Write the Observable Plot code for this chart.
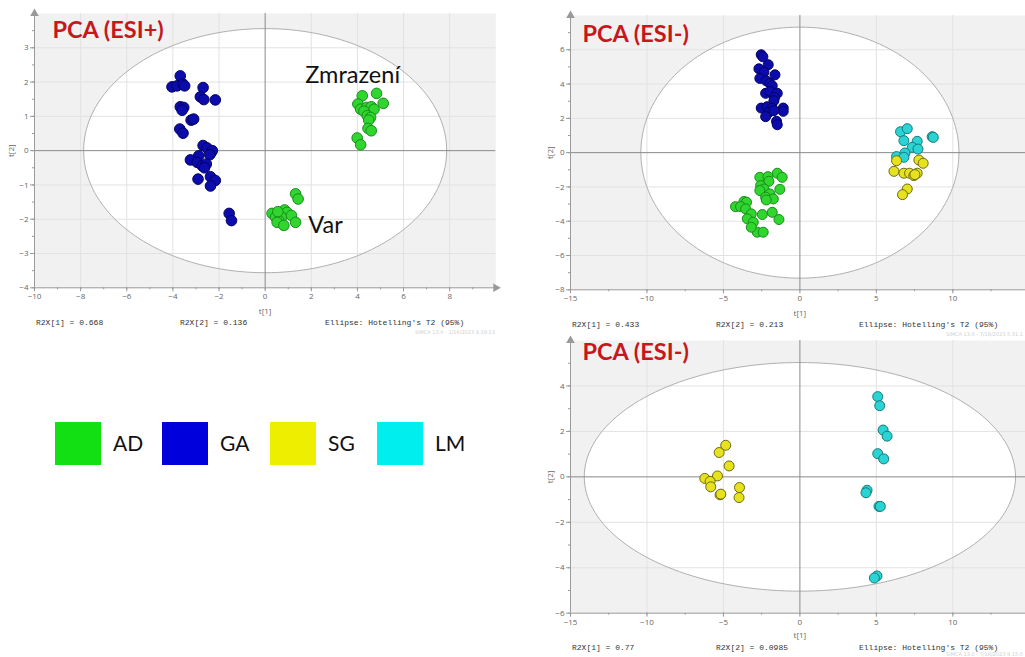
<!DOCTYPE html>
<html><head><meta charset="utf-8">
<script src="https://cdn.jsdelivr.net/npm/d3@7"></script>
<script src="https://cdn.jsdelivr.net/npm/@observablehq/plot@0.6"></script>
<style>
body{margin:0;background:#fff;overflow:hidden}
#root{position:relative;width:1025px;height:657px;overflow:hidden;background:#fff}
.panel{position:absolute}
.foot{position:absolute;font-family:"Liberation Mono","DejaVu Sans Mono",monospace;font-size:8px;color:#333;white-space:pre;line-height:10px}
.stamp{position:absolute;font-family:"DejaVu Sans",sans-serif;font-size:5px;color:#d0d0d0;white-space:pre;line-height:6px;text-align:right}
.sw{position:absolute;width:46px;height:43px}
.lt{position:absolute;font-family:Lato,"Open Sans",sans-serif;font-size:21px;color:#111;line-height:24px}
</style></head>
<body><div id="root"></div>
<script>
// ---------- data ----------
const groupNames = ["AD", "GA", "SG", "LM"];
const dotFill   = ["#2ed62e", "#0c0cae", "#e6e21e", "#2ad4d4"];
const dotStroke = ["#1c8a1c", "#03035e", "#6e6a10", "#187a7a"];
const legendColors = ["#12e012", "#0000dd", "#eeee00", "#00eeee"];

// Panel 1: PCA (ESI+)
const p1_GA = [[-3.68,2.18],[-4.04,1.86],[-3.82,1.89],[-3.56,1.94],[-3.49,1.89],[-2.69,1.84],[-2.81,1.57],[-2.66,1.49],[-2.16,1.48],
  [-3.68,1.28],[-3.53,1.26],[-3.60,1.18],[-3.21,0.89],[-3.10,0.92],[-3.70,0.63],[-3.56,0.51],[-2.69,0.15],[-2.52,0.08],[-2.34,-0.05],
  [-2.29,0.0],[-2.40,-0.12],[-3.24,-0.27],[-2.88,-0.15],[-2.95,-0.34],[-2.73,-0.44],[-2.55,-0.39],[-2.63,-0.50],[-2.91,-0.83],
  [-2.37,-0.76],[-2.16,-0.87],[-2.37,-1.03],[-1.56,-1.83],[-1.46,-2.04]];
const p1_AD = [[4.21,1.60],[4.83,1.67],[5.12,1.38],[4.02,1.36],[4.14,1.21],[4.40,1.26],[4.60,1.28],[4.72,1.21],[4.28,1.15],[4.43,1.02],
  [4.57,0.97],[4.49,0.89],[4.46,0.65],[4.60,0.58],[3.99,0.37],[4.14,0.17],
  [1.32,-1.26],[1.43,-1.41],[0.30,-1.83],[0.45,-1.94],[0.67,-1.84],[0.84,-1.73],[0.95,-1.80],[0.71,-1.94],[0.59,-2.04],[0.52,-2.09],
  [0.81,-2.18],[1.14,-1.89],[1.32,-2.09],[0.55,-1.78]];
const p1_labels = [{x:1.74, y:1.98, text:"Zmrazení"}, {x:1.87, y:-2.39, text:"Var"}];

// Panel 2: PCA (ESI-)
const p2_GA = [[-2.53,5.71],[-2.42,5.59],[-2.07,5.13],[-2.68,4.89],[-2.35,4.70],[-1.63,4.54],[-2.62,4.33],[-2.20,4.19],[-1.96,4.04],
  [-1.81,3.90],[-2.24,3.46],[-1.96,3.57],[-1.48,3.46],[-1.66,3.22],[-1.70,3.03],[-2.53,2.60],[-2.14,2.68],[-1.81,2.60],[-1.09,2.60],
  [-1.09,2.41],[-2.03,2.35],[-1.70,2.45],[-2.24,2.10],[-1.53,1.83],[-1.48,1.63]];
const p2_AD = [[-1.48,-1.20],[-1.16,-1.44],[-2.62,-1.44],[-2.09,-1.40],[-2.03,-1.67],[-2.57,-1.92],[-2.35,-2.12],[-2.62,-2.21],[-1.31,-2.14],
  [-1.96,-2.41],[-2.24,-2.60],[-1.74,-2.70],[-2.20,-2.76],[-3.66,-2.85],[-3.49,-2.89],[-4.21,-3.15],[-3.88,-3.15],[-3.55,-3.28],
  [-3.18,-3.57],[-2.46,-3.61],[-1.81,-3.48],[-1.37,-3.90],[-3.44,-3.86],[-3.05,-4.06],[-2.79,-4.64],[-2.40,-4.64],[-3.18,-4.35]];
const p2_LM = [[6.58,1.22],[7.02,1.40],[8.65,0.93],[8.72,0.89],[6.80,0.70],[7.67,0.66],[7.35,0.31],[7.72,0.21],[6.87,-0.02],[6.32,-0.23],[6.80,-0.27]];
const p2_SG = [[6.32,-0.47],[7.78,-0.43],[8.06,-0.62],[6.15,-1.09],[6.80,-1.20],[7.17,-1.20],[7.67,-1.20],[7.45,-1.34],[7.52,-1.28],[7.02,-2.12],[6.71,-2.45]];

// Panel 3: PCA (ESI-)
const p3_SG = [[-4.85,1.39],[-5.28,1.07],[-4.63,0.48],[-6.22,-0.07],[-5.39,0.04],[-5.87,-0.20],[-5.83,-0.44],[-5.22,-0.79],[-3.95,-0.47],[-3.98,-0.91],[-5.17,-0.76]];
const p3_LM = [[5.09,3.53],[5.22,3.13],[5.44,2.06],[5.70,1.79],[5.09,1.02],[5.48,0.79],[4.39,-0.59],[4.32,-0.70],[5.17,-1.30],[5.26,-1.30],[5.04,-4.36],[4.87,-4.45]];

// axes / ellipses
const p1_xTicks = [-10,-8,-6,-4,-2,0,2,4,6,8], p1_yTicks = [-4,-3,-2,-1,0,1,2,3];
const p23_xTicks = [-15,-10,-5,0,5,10], p2_yTicks = [-8,-6,-4,-2,0,2,4,6], p3_yTicks = [-6,-4,-2,0,2,4];
const ellipseRadii = {p1:[7.87,3.56], p2:[10.4,7.32], p3:[14.1,5.03]};
const footers = {
  p1:["R2X[1] = 0.668","R2X[2] = 0.136","Ellipse: Hotelling's T2 (95%)","SIMCA 13.0 - 1/16/2023 4:19:13"],
  p2:["R2X[1] = 0.433","R2X[2] = 0.213","Ellipse: Hotelling's T2 (95%)","SIMCA 13.0 - 7/18/2023 5:31:1"],
  p3:["R2X[1] = 0.77","R2X[2] = 0.0985","Ellipse: Hotelling's T2 (95%)","SIMCA 13.0 - 7/18/2023 9:15:0"]
};

// ---------- drawing ----------
const root = document.getElementById("root");
function place(el, left, top){ el.classList.add("panel"); el.style.left = left+"px"; el.style.top = top+"px"; root.appendChild(el); }

function panel(o){
  const [rx, ry] = o.radii;
  const ell = d3.range(0, 361, 2).map(a => ({x: rx*Math.cos(a*Math.PI/180), y: ry*Math.sin(a*Math.PI/180)}));
  const pts = o.groups.flatMap(([g, arr]) => arr.map(([x, y]) => ({x, y, g})));
  const gi = g => groupNames.indexOf(g);
  const minorX = d3.range(o.x[0], o.x[1] + 1e-9, o.xMinor);
  const minorY = d3.range(o.y[0], o.y[1] + 1e-9, o.yMinor);
  return Plot.plot({
    width: o.width, height: o.height,
    marginLeft: o.mL, marginRight: o.mR, marginTop: o.mT, marginBottom: o.mB,
    x: {domain: o.x}, y: {domain: o.y},
    style: {fontFamily: "'Open Sans', sans-serif", fontSize: "8px", color: "#555", background: "transparent", overflow: "visible"},
    marks: [
      Plot.frame({fill: "#f1f1f1", stroke: null}),
      Plot.line(ell, {x: "x", y: "y", fill: "white", stroke: "none", curve: "linear-closed"}),
      Plot.gridX(o.xGrid, {stroke: "#e2e2e2", strokeOpacity: 1}),
      Plot.gridY(o.yGrid, {stroke: "#e2e2e2", strokeOpacity: 1}),
      Plot.line(ell, {x: "x", y: "y", stroke: "#b0b0b0", strokeWidth: 1, curve: "linear-closed"}),
      Plot.ruleX([0], {stroke: "#8a8a8a"}),
      Plot.ruleY([0], {stroke: "#8a8a8a"}),
      Plot.ruleX([o.x[0]], {stroke: "#9a9a9a"}),
      Plot.ruleY([o.y[0]], {stroke: "#9a9a9a"}),
      Plot.axisX(minorX, {tickSize: 2, tickFormat: () => "", label: null, stroke: "#999"}),
      Plot.axisY(minorY, {tickSize: 2, tickFormat: () => "", label: null, stroke: "#999"}),
      Plot.axisX(o.xTicks, {tickSize: 4, tickPadding: 2, stroke: "#999", fill: "#666", label: "t[1]", labelAnchor: "center", labelArrow: "none", labelOffset: o.xLabOff}),
      Plot.axisY(o.yTicks, {tickSize: 4, tickPadding: 2, stroke: "#999", fill: "#666", label: "t[2]", labelAnchor: "center", labelArrow: "none", labelOffset: o.yLabOff}),
      Plot.dot([{x: o.x[0], y: o.y[1]}], {x: "x", y: "y", symbol: "triangle", r: 3.2, fill: "#999", stroke: "none"}),
      Plot.dot([{x: o.x[1], y: o.y[0]}], {x: "x", y: "y", symbol: "triangle", r: 3.2, rotate: 90, fill: "#999", stroke: "none"}),
      Plot.dot(pts, {x: "x", y: "y", r: o.r, fill: d => dotFill[gi(d.g)], stroke: d => dotStroke[gi(d.g)], strokeWidth: 1}),
      Plot.text([o.title], {frameAnchor: "top-left", dx: o.titleDx, dy: o.titleDy, text: d => d, fill: "#c8161d",
        fontFamily: "Lato, 'Open Sans', sans-serif", fontWeight: "bold", fontSize: 23.5, textAnchor: "start", lineAnchor: "top"}),
      Plot.text(o.labels || [], {x: "x", y: "y", text: "text", textAnchor: "start", lineAnchor: "bottom",
        fontFamily: "Lato, 'Open Sans', sans-serif", fontSize: 23.5, fill: "#111"})
    ]
  });
}

const p1 = panel({groups: [["GA", p1_GA], ["AD", p1_AD]], radii: ellipseRadii.p1, x: [-10, 10], y: [-4, 4],
  xTicks: p1_xTicks, yTicks: p1_yTicks, xGrid: p1_xTicks.filter(v => v !== -10 && v !== 0), yGrid: p1_yTicks.filter(v => v !== -4 && v !== 0),
  xMinor: 1, yMinor: 0.5, width: 510, height: 318, mL: 34, mR: 14.7, mT: 13, mB: 30.7, xLabOff: 26, yLabOff: 26, r: 5.3,
  title: "PCA (ESI+)", titleDx: 18, titleDy: 8, labels: p1_labels});
place(p1, 0, 0);

const p2 = panel({groups: [["GA", p2_GA], ["AD", p2_AD], ["LM", p2_LM], ["SG", p2_SG]], radii: ellipseRadii.p2, x: [-15, 15], y: [-8, 8],
  xTicks: p23_xTicks, yTicks: p2_yTicks, xGrid: [-10, -5, 5, 10], yGrid: [-6, -4, -2, 2, 4, 6],
  xMinor: 2.5, yMinor: 1, width: 529, height: 318, mL: 60, mR: 10.2, mT: 15, mB: 28.7, xLabOff: 26, yLabOff: 23, r: 5,
  title: "PCA (ESI-)", titleDx: 12, titleDy: 10});
place(p2, 510, 0);

const p3 = panel({groups: [["SG", p3_SG], ["LM", p3_LM]], radii: ellipseRadii.p3, x: [-15, 15], y: [-6, 6],
  xTicks: p23_xTicks, yTicks: p3_yTicks, xGrid: [-10, -5, 5, 10], yGrid: [-4, -2, 2, 4],
  xMinor: 2.5, yMinor: 1, width: 529, height: 310, mL: 60, mR: 10.2, mT: 10, mB: 27.3, xLabOff: 25, yLabOff: 23, r: 5,
  title: "PCA (ESI-)", titleDx: 12, titleDy: 3});
place(p3, 510, 330);

// footers
function foot(list, left, cols, top, stampRight, stampTop){
  list.slice(0, 3).forEach((t, i) => { const d = document.createElement("div"); d.className = "foot"; d.textContent = t;
    d.style.left = (left + cols[i]) + "px"; d.style.top = top + "px"; root.appendChild(d); });
  const s = document.createElement("div"); s.className = "stamp"; s.textContent = list[3];
  s.style.right = (1025 - stampRight) + "px"; s.style.top = stampTop + "px"; root.appendChild(s);
}
foot(footers.p1, 0, [36, 180, 325], 318, 495, 329);
foot(footers.p2, 510, [62, 206, 349], 320, 1023, 331);
foot(footers.p3, 510, [62, 206, 349], 643, 1023, 651);

// legend
const legX = [55, 162, 270, 377];
groupNames.forEach((g, i) => {
  const sw = document.createElement("div"); sw.className = "sw"; sw.style.left = legX[i] + "px"; sw.style.top = "422px";
  sw.style.background = legendColors[i]; root.appendChild(sw);
  const t = document.createElement("div"); t.className = "lt"; t.textContent = g; t.style.left = (legX[i] + 58) + "px"; t.style.top = "431px";
  root.appendChild(t);
});
</script>
</body></html>
